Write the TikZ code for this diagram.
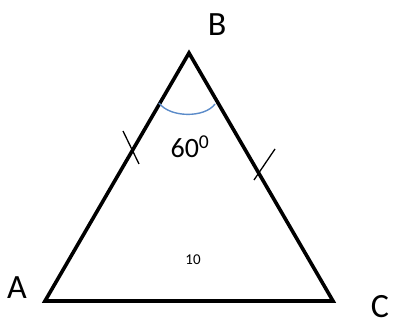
\documentclass[tikz,border=0pt]{standalone}
\usepackage{fontspec}
\setmainfont{Carlito}
\begin{document}
\begin{tikzpicture}[x=1pt, y=1pt,
  side/.style={line width=3.6pt, line join=miter},
  tick/.style={line width=1.3pt},
  anglearc/.style={line width=1.4pt, color={rgb,255:red,91;green,139;blue,201}},
  vlabel/.style={inner sep=0pt, font=\fontsize{34}{34}\selectfont},
  every node/.style={inner sep=0pt}]
\useasboundingbox (0,0) rectangle (393,320);
\coordinate (A) at (45,19);
\coordinate (B) at (189,267);
\coordinate (C) at (333,19);
\node[vlabel] (labA) at (17,32) {A};
\node[vlabel] (labB) at (217,295) {B};
\node[vlabel] (labC) at (380,13) {C};
\node (angle) at (190,173) {\fontsize{28}{28}\selectfont 60\textsuperscript{0}};
\node (base) at (193,60) {\fontsize{15}{15}\selectfont 10};
\coordinate (t1a) at (123,189);
\coordinate (t1b) at (139,156);
\coordinate (t2a) at (275,171);
\coordinate (t2b) at (254,140);
\coordinate (arcL) at (159,217);
\coordinate (arcR) at (215,216);
\draw[side] (A) -- (B) -- (C) -- cycle;
\draw[tick] (t1a) -- (t1b);
\draw[tick] (t2a) -- (t2b);
\draw[anglearc] (arcL) .. controls (170,202) and (205,202) .. (arcR);
\end{tikzpicture}
\end{document}
